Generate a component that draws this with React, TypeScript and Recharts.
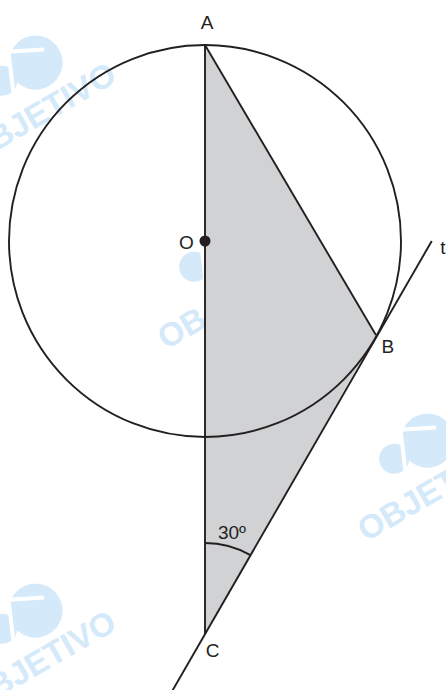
import React from 'react';
import { ComposedChart, XAxis, YAxis, Area, ReferenceLine, ReferenceDot } from 'recharts';

const W = 446;
const H = 690;

// Geometry (unit = circle radius, origin = centre O)
const pointA = { x: 0, y: 1 };
const pointO = { x: 0, y: 0 };
const pointB = { x: 0.872, y: -0.48 };
const pointC = { x: 0, y: -2.005 };
const tangentEnds = [
  { x: -0.21, y: -2.37 },
  { x: 1.157, y: 0 },
];
const angleAtC = 30; // degrees
const angleLabel = '30º';
const pointNames = ['A', 'O', 'B', 'C', 't'];

// Filled triangle ABC as a range area
const triangleData = [
  { x: pointA.x, band: [pointC.y, pointA.y] },
  { x: pointB.x, band: [pointB.y, pointB.y] },
];

// Watermark anchors (decoration)
const watermarkText = 'OBJETIVO';
const watermarks = [
  { x: -26, y: 164 },
  { x: 166, y: 350 },
  { x: 366, y: 542 },
  { x: -26, y: 712 },
];

const UNIT_PX = 196;
const O_PX = { x: 205, y: 241 };
const xDomain = [-O_PX.x / UNIT_PX, (W - O_PX.x) / UNIT_PX];
const yDomain = [-(H - O_PX.y) / UNIT_PX, O_PX.y / UNIT_PX];

const INK = '#231f20';
const FONT = '"Liberation Sans", Arial, Helvetica, sans-serif';
const FS = 19;
const SW = 1.9;

const labelShape = (text: string, dx: number, dy: number, dotR = 0) => (p: any) => (
  <g>
    {dotR > 0 && <circle cx={p.cx} cy={p.cy} r={dotR} fill={INK} />}
    <text x={p.cx + dx} y={p.cy + dy} textAnchor="middle" fontFamily={FONT} fontSize={FS} fill={INK}>
      {text}
    </text>
  </g>
);

const arcShape = (p: any) => {
  const r = 91;
  const a = (angleAtC * Math.PI) / 180;
  const sx = p.cx;
  const sy = p.cy - r;
  const ex = p.cx + r * Math.sin(a);
  const ey = p.cy - r * Math.cos(a);
  return (
    <g>
      <path d={`M${sx},${sy} A${r},${r} 0 0 1 ${ex},${ey}`} fill="none" stroke={INK} strokeWidth={SW} />
      <text x={p.cx + 27} y={p.cy - 95} textAnchor="middle" fontFamily={FONT} fontSize={FS} fill={INK}>
        {angleLabel}
      </text>
    </g>
  );
};

function Watermark({ x, y }: { x: number; y: number }) {
  return (
    <g transform={`translate(${x},${y}) rotate(-30)`} fill="#d4e9f9">
      <circle cx={104} cy={-57} r={27} />
      <circle cx={66} cy={-58} r={15} />
      <path d="M68,-38 L86,-80 L118,-64" fill="none" stroke="#fff" strokeWidth={4} />
      <text x={0} y={0} fontFamily={FONT} fontWeight="bold" fontSize={33}>
        {watermarkText}
      </text>
    </g>
  );
}

export default function App() {
  return (
    <div style={{ position: 'absolute', left: 0, top: 0, width: W, height: H, background: '#fff' }}>
      <svg width={W} height={H} style={{ position: 'absolute', left: 0, top: 0 }}>
        {watermarks.map((w, i) => (
          <Watermark key={i} x={w.x} y={w.y} />
        ))}
      </svg>
      <div style={{ position: 'absolute', left: 0, top: 0 }}>
        <ComposedChart width={W} height={H} margin={{ top: 0, right: 0, bottom: 0, left: 0 }}>
          <XAxis type="number" dataKey="x" domain={xDomain} allowDataOverflow hide />
          <YAxis type="number" domain={yDomain} allowDataOverflow hide />
          <Area
            data={triangleData}
            dataKey="band"
            type="linear"
            fill="#d1d2d4"
            fillOpacity={1}
            stroke="none"
            isAnimationActive={false}
            dot={false}
            activeDot={false}
          />
          <ReferenceDot x={pointC.x} y={pointC.y} r={0} shape={arcShape} ifOverflow="visible" />
          <ReferenceLine segment={[pointA, pointC]} stroke={INK} strokeWidth={SW} ifOverflow="visible" />
          <ReferenceLine segment={[pointA, pointB]} stroke={INK} strokeWidth={SW} ifOverflow="visible" />
          <ReferenceLine segment={tangentEnds} stroke={INK} strokeWidth={SW} ifOverflow="visible" />
          <ReferenceDot x={pointO.x} y={pointO.y} r={UNIT_PX} fill="none" stroke={INK} strokeWidth={SW} ifOverflow="visible" />
          <ReferenceDot x={pointA.x} y={pointA.y} r={0} shape={labelShape(pointNames[0], 2, -16.5)} ifOverflow="visible" />
          <ReferenceDot x={pointO.x} y={pointO.y} r={0} shape={labelShape(pointNames[1], -18.5, 7.5, 5.5)} ifOverflow="visible" />
          <ReferenceDot x={pointB.x} y={pointB.y} r={0} shape={labelShape(pointNames[2], 12, 17.5)} ifOverflow="visible" />
          <ReferenceDot x={pointC.x} y={pointC.y} r={0} shape={labelShape(pointNames[3], 7.5, 23)} ifOverflow="visible" />
          <ReferenceDot x={tangentEnds[1].x} y={tangentEnds[1].y} r={0} shape={labelShape(pointNames[4], 11, 13)} ifOverflow="visible" />
        </ComposedChart>
      </div>
    </div>
  );
}
